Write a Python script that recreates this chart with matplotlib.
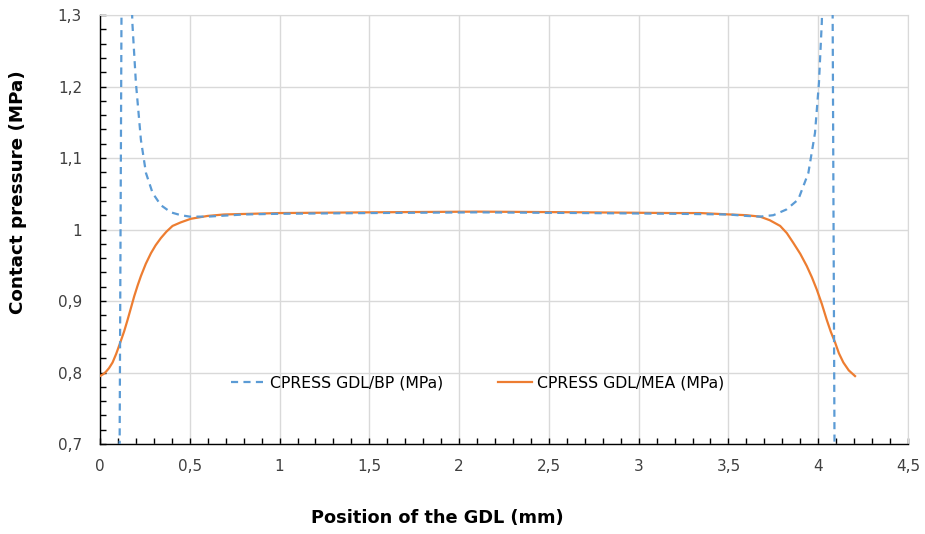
import matplotlib
matplotlib.use('Agg')
import matplotlib.pyplot as plt
from matplotlib.ticker import MultipleLocator

# ---------------- dados ----------------
# CPRESS GDL/BP (MPa) - linha azul tracejada
x_bp = [0.105, 0.13, 0.155, 0.18, 0.2, 0.228, 0.256, 0.293, 0.339, 0.395, 0.45, 0.5,
        0.6, 0.8, 1.0, 1.5, 2.1, 2.7, 3.2, 3.5, 3.6, 3.676, 3.75, 3.823, 3.889, 3.945,
        3.982, 4.004, 4.02, 4.045, 4.07, 4.095]
y_bp = [0.45, 1.9, 1.55, 1.29, 1.205, 1.125, 1.079, 1.051, 1.034, 1.024, 1.020, 1.018,
        1.018, 1.021, 1.022, 1.023, 1.024, 1.023, 1.022, 1.021, 1.019, 1.018, 1.020, 1.028,
        1.042, 1.079, 1.135, 1.205, 1.29, 1.55, 1.9, 0.45]

# CPRESS GDL/MEA (MPa) - linha laranja
x_mea = [0.0, 0.02, 0.033, 0.05, 0.07, 0.09, 0.113, 0.135, 0.154, 0.172, 0.191, 0.21, 0.228,
         0.255, 0.284, 0.31, 0.339, 0.37, 0.404, 0.45, 0.506, 0.6, 0.69, 1.0, 1.5, 2.1,
         2.7, 3.2, 3.343, 3.51, 3.6, 3.676, 3.73, 3.788, 3.825, 3.862, 3.9, 3.936, 3.965,
         3.992, 4.02, 4.047, 4.07, 4.094, 4.115, 4.14, 4.17, 4.205]
y_mea = [0.795, 0.798, 0.801, 0.806, 0.814, 0.826, 0.842, 0.858, 0.874, 0.890, 0.907, 0.922,
         0.935, 0.952, 0.967, 0.978, 0.988, 0.997, 1.005, 1.010, 1.015, 1.019, 1.021, 1.023,
         1.024, 1.025, 1.024, 1.023, 1.023, 1.021, 1.020, 1.018, 1.013, 1.005, 0.995, 0.981,
         0.966, 0.949, 0.933, 0.916, 0.896, 0.874, 0.857, 0.842, 0.827, 0.814, 0.803, 0.795]

xticks = [0, 0.5, 1, 1.5, 2, 2.5, 3, 3.5, 4, 4.5]
xtick_labels = ['0', '0,5', '1', '1,5', '2', '2,5', '3', '3,5', '4', '4,5']
yticks = [0.7, 0.8, 0.9, 1.0, 1.1, 1.2, 1.3]
ytick_labels = ['0,7', '0,8', '0,9', '1', '1,1', '1,2', '1,3']

cor_bp = '#5B9BD5'
cor_mea = '#ED7D31'
cinza = '#D9D9D9'

# ---------------- figura ----------------
fig = plt.figure(figsize=(9.25, 5.34), dpi=100)
ax = fig.add_axes([100/925, 1 - 444/534, 808/925, 429/534])

ax.plot(x_mea, y_mea, color=cor_mea, linewidth=1.6, label='CPRESS GDL/MEA (MPa)', zorder=3)
ax.plot(x_bp, y_bp, color=cor_bp, linewidth=1.6, dashes=(3.2, 2.4), label='CPRESS GDL/BP (MPa)', zorder=4)

ax.set_xlim(0, 4.5)
ax.set_ylim(0.7, 1.3)
ax.set_xticks(xticks)
ax.set_xticklabels(xtick_labels)
ax.set_yticks(yticks)
ax.set_yticklabels(ytick_labels)
ax.xaxis.set_minor_locator(MultipleLocator(0.1))
ax.yaxis.set_minor_locator(MultipleLocator(0.02))

ax.grid(True, which='major', color=cinza, linewidth=1)
ax.set_axisbelow(True)

ax.tick_params(which='both', direction='in', length=4, width=1, color='black',
               top=False, right=False)
ax.tick_params(axis='y', which='major', pad=13, labelsize=11, labelcolor='#404040')
ax.tick_params(axis='x', which='major', pad=11, labelsize=11, labelcolor='#404040')

for lado in ['top', 'right']:
    ax.spines[lado].set_color(cinza)
for lado in ['left', 'bottom']:
    ax.spines[lado].set_color('black')
    ax.spines[lado].set_linewidth(1)

# legenda (ordem: azul, laranja)
h, l = ax.get_legend_handles_labels()
ax.legend(h[::-1], l[::-1], ncol=2, frameon=False, fontsize=11.3,
          loc='center', bbox_to_anchor=(0.467, 0.142),
          handlelength=2.17, handletextpad=0.32, columnspacing=3.5)

fig.text(437/925, 1 - 518/534, 'Position of the GDL (mm)', fontsize=12.8,
         fontweight='bold', ha='center', va='center')
fig.text(18/925, 1 - 192/534, 'Contact pressure (MPa)', fontsize=13.2,
         fontweight='bold', ha='center', va='center', rotation=90)

plt.savefig('out.png', dpi=100)
